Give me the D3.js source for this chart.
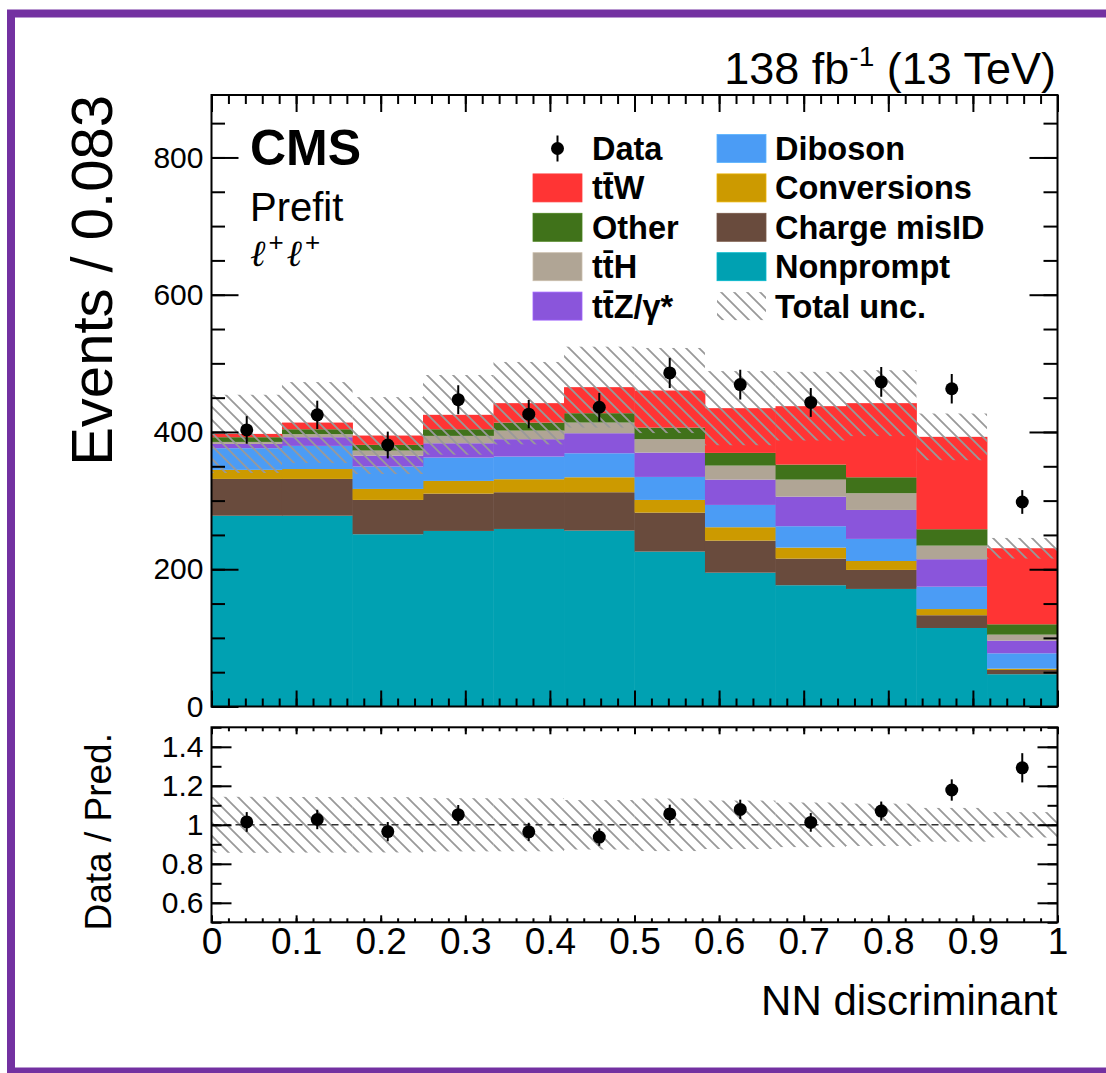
<!DOCTYPE html>
<html><head><meta charset="utf-8">
<script src="https://cdn.jsdelivr.net/npm/d3@7"></script>
<style>body{margin:0;background:#fff}svg{display:block}</style>
</head><body><svg id="c" width="1106" height="1073"></svg>
<script>
// ---------------- data ----------------
const binEdges = [0, 0.0833, 0.1667, 0.25, 0.3333, 0.4167, 0.5, 0.5833, 0.6667, 0.75, 0.8333, 0.9167, 1];
const nonprompt   = [278, 278, 251, 255.8, 258.7, 256.3, 225.7, 195, 176.7, 171.3, 114.4, 47];
const chargeMisID = [53.6, 53.6, 50, 54.4, 53.5, 55.9, 56.8, 46.7, 38.8, 27.7, 18.6, 6.2];
const conversions = [13.2, 14.4, 16, 18.5, 19, 21.8, 18.5, 19.5, 16, 13, 9, 1.9];
const diboson     = [31.6, 33.7, 32.6, 34, 33, 35, 33.5, 32.5, 31.2, 32.2, 32.6, 22.4];
const ttZ         = [6.2, 12.7, 16, 20.9, 25.3, 29.2, 35.5, 36.9, 43.1, 42.2, 40, 18.5];
const ttH         = [2.9, 4.4, 7.3, 10.7, 12.5, 15.5, 19.5, 20.4, 24.8, 24.4, 19.8, 8.7];
const other       = [6.9, 7.2, 8.3, 9.7, 11.7, 13.7, 16.9, 18.5, 21.9, 23.2, 23.9, 15.1];
const ttW         = [4.8, 9.7, 13.6, 21, 28.3, 37.9, 54, 65.2, 85.1, 108, 134.6, 110.8];
const dataCounts  = [403, 425, 381, 447, 426, 436, 486, 469, 443, 473, 463, 298];
const dataErr     = [20.1, 20.6, 19.5, 21.1, 20.6, 20.9, 22, 21.7, 21, 21.7, 21.5, 17.3];
const totalUnc    = [57, 59, 56, 58, 60, 59, 62, 54, 50, 48, 34, 15];

const processNames  = ["Nonprompt", "Charge misID", "Conversions", "Diboson", "ttZ", "ttH", "Other", "ttW"];
const processValues = [nonprompt, chargeMisID, conversions, diboson, ttZ, ttH, other, ttW];
const processColors = ["#00a1b2", "#694b3d", "#cc9a00", "#4b9cf5", "#8a55db", "#b0a595", "#40721a", "#ff3434"];

const xTicks = [0, 0.1, 0.2, 0.3, 0.4, 0.5, 0.6, 0.7, 0.8, 0.9, 1];
const xTickLabels = ["0", "0.1", "0.2", "0.3", "0.4", "0.5", "0.6", "0.7", "0.8", "0.9", "1"];
const yTicksMain = [0, 200, 400, 600, 800];
const yTicksRatio = [0.6, 0.8, 1, 1.2, 1.4];
const yTickLabelsRatio = ["0.6", "0.8", "1", "1.2", "1.4"];

// ---------------- layout ----------------
const svg = d3.select("#c");
const FONT = "'Liberation Sans', Arial, Helvetica, sans-serif";
const L = 211.5, R = 1057.5, T1 = 95, B1 = 706.5, T2 = 727.3, B2 = 922.3;
const x = d3.scaleLinear([0, 1], [L, R]);
const yMain = d3.scaleLinear([0, 891], [B1, T1]);
const yRatio = d3.scaleLinear([0.5, 1.5], [B2, T2]);

// purple frame
svg.append("rect").attr("x", 11).attr("y", 13.5).attr("width", 1200).attr("height", 1058)
  .attr("fill", "none").attr("stroke", "#7331a1").attr("stroke-width", 8);

// hatch pattern
const defs = svg.append("defs");
const pat = defs.append("pattern").attr("id", "hatch").attr("patternUnits", "userSpaceOnUse")
  .attr("width", 13).attr("height", 13);
pat.append("path").attr("d", "M-3,-3 L16,16 M-3,10 L3,16 M10,-3 L16,3")
  .attr("stroke", "#999").attr("stroke-width", 1.8).attr("fill", "none");

// ---------------- main panel ----------------
const bins = d3.range(binEdges.length - 1).map(i => {
  const o = { i, lo: binEdges[i], hi: binEdges[i + 1] };
  processNames.forEach((p, k) => o[p] = processValues[k][i]);
  return o;
});
const stack = d3.stack().keys(processNames)(bins);
const totals = bins.map(b => d3.sum(processNames, p => b[p]));

const gStack = svg.append("g");
stack.forEach((layer, k) => {
  gStack.selectAll(null).data(layer).enter().append("rect")
    .attr("x", d => x(d.data.lo))
    .attr("width", d => x(d.data.hi) - x(d.data.lo) + 0.4)
    .attr("y", d => yMain(d[1]))
    .attr("height", d => yMain(d[0]) - yMain(d[1]))
    .attr("fill", processColors[k]);
});

// uncertainty band
svg.append("g").selectAll("rect").data(bins).enter().append("rect")
  .attr("x", d => x(d.lo)).attr("width", d => x(d.hi) - x(d.lo))
  .attr("y", d => yMain(totals[d.i] + totalUnc[d.i]))
  .attr("height", d => yMain(totals[d.i] - totalUnc[d.i]) - yMain(totals[d.i] + totalUnc[d.i]))
  .attr("fill", "url(#hatch)");

// data points
const gData = svg.append("g");
bins.forEach(b => {
  const cx = x((b.lo + b.hi) / 2);
  gData.append("line").attr("x1", cx).attr("x2", cx)
    .attr("y1", yMain(dataCounts[b.i] - dataErr[b.i])).attr("y2", yMain(dataCounts[b.i] + dataErr[b.i]))
    .attr("stroke", "#000").attr("stroke-width", 2);
  gData.append("circle").attr("cx", cx).attr("cy", yMain(dataCounts[b.i])).attr("r", 6.5).attr("fill", "#000");
});

// axes helpers
function styleAxis(g) {
  g.select(".domain").remove();
  g.selectAll(".tick line").attr("stroke", "#000").attr("stroke-width", 2);
  g.selectAll("text").attr("font-family", FONT).attr("fill", "#000");
}
function axisSet(scale, majors, minors, labels, orient, y0, len, fontSize, pad) {
  const mk = orient === "left" ? d3.axisLeft : orient === "right" ? d3.axisRight : orient === "top" ? d3.axisTop : d3.axisBottom;
  const pos = orient === "left" || orient === "right" ? `translate(${y0},0)` : `translate(0,${y0})`;
  const gMin = svg.append("g").attr("transform", pos)
    .call(mk(scale).tickValues(minors).tickSize(-len[1]).tickFormat(""));
  styleAxis(gMin);
  const gMaj = svg.append("g").attr("transform", pos)
    .call(mk(scale).tickValues(majors).tickSize(-len[0]).tickPadding(pad || 0)
      .tickFormat(labels ? ((d, i) => labels[i]) : ""));
  styleAxis(gMaj);
  gMaj.selectAll("text").attr("font-size", fontSize || 10);
  return gMaj;
}

const xMinor = d3.range(0, 51).map(i => i * 0.02);
const yMinorMain = d3.range(0, 18).map(i => i * 50);
const yMinorRatio = d3.range(0, 11).map(i => 0.5 + i * 0.1);

axisSet(yMain, yTicksMain, yMinorMain, yTicksMain.map(String), "left", L, [27, 13.5], 30, 8);
axisSet(yMain, yTicksMain, yMinorMain, null, "right", R, [28, 14]);
axisSet(x, xTicks, xMinor, null, "bottom", B1, [16, 8]);
axisSet(x, xTicks, xMinor, null, "top", T1, [17, 9]);

svg.append("rect").attr("x", L).attr("y", T1).attr("width", R - L).attr("height", B1 - T1)
  .attr("fill", "none").attr("stroke", "#000").attr("stroke-width", 2);

// ---------------- ratio panel ----------------
svg.append("g").selectAll("rect").data(bins).enter().append("rect")
  .attr("x", d => x(d.lo)).attr("width", d => x(d.hi) - x(d.lo))
  .attr("y", d => yRatio(1 + totalUnc[d.i] / totals[d.i]))
  .attr("height", d => yRatio(1 - totalUnc[d.i] / totals[d.i]) - yRatio(1 + totalUnc[d.i] / totals[d.i]))
  .attr("fill", "url(#hatch)");

svg.append("line").attr("x1", L).attr("x2", R).attr("y1", yRatio(1)).attr("y2", yRatio(1))
  .attr("stroke", "#333").attr("stroke-width", 1.5).attr("stroke-dasharray", "7,5");

const gR = svg.append("g");
bins.forEach(b => {
  const cx = x((b.lo + b.hi) / 2);
  const r = dataCounts[b.i] / totals[b.i];
  const e = dataErr[b.i] / totals[b.i];
  gR.append("line").attr("x1", cx).attr("x2", cx)
    .attr("y1", yRatio(r - e)).attr("y2", yRatio(r + e))
    .attr("stroke", "#000").attr("stroke-width", 2);
  gR.append("circle").attr("cx", cx).attr("cy", yRatio(r)).attr("r", 6.5).attr("fill", "#000");
});

axisSet(yRatio, yTicksRatio, yMinorRatio, yTickLabelsRatio, "left", L, [20, 10], 30, 8);
axisSet(yRatio, yTicksRatio, yMinorRatio, null, "right", R, [20, 10]);
const gxb = axisSet(x, xTicks, xMinor, xTickLabels, "bottom", B2, [7, 4], 37, 0);
gxb.selectAll("text").attr("dy", null).attr("y", 0).attr("transform", "translate(0,32)");
axisSet(x, xTicks, xMinor, null, "top", T2, [7, 4]);

svg.append("rect").attr("x", L).attr("y", T2).attr("width", R - L).attr("height", B2 - T2)
  .attr("fill", "none").attr("stroke", "#000").attr("stroke-width", 2);

// ---------------- texts ----------------
svg.append("text").attr("x", R).attr("y", 1015).attr("text-anchor", "end")
  .attr("font-family", FONT).attr("font-size", 42).text("NN discriminant");

svg.append("text").attr("transform", `translate(112,${T1}) rotate(-90)`).attr("text-anchor", "end")
  .attr("font-family", FONT).attr("font-size", 58).text("Events / 0.083");

svg.append("text").attr("transform", `translate(111,${(T2 + B2) / 2 + 7}) rotate(-90)`).attr("text-anchor", "middle")
  .attr("font-family", FONT).attr("font-size", 37).text("Data / Pred.");

const lumi = svg.append("text").attr("x", 1056).attr("y", 84).attr("text-anchor", "end")
  .attr("font-family", FONT).attr("font-size", 45);
lumi.append("tspan").text("138 fb");
lumi.append("tspan").attr("font-size", 28).attr("dy", -18).text("-1");
lumi.append("tspan").attr("dy", 18).text(" (13 TeV)");

svg.append("text").attr("x", 250).attr("y", 165).attr("font-family", FONT).attr("font-weight", "bold")
  .attr("font-size", 50).text("CMS");
svg.append("text").attr("x", 250).attr("y", 221).attr("font-family", FONT)
  .attr("font-size", 40).text("Prefit");
const ll = svg.append("text").attr("x", 250).attr("y", 266).attr("font-family", "'DejaVu Serif', serif")
  .attr("font-style", "italic").attr("font-size", 37);
ll.append("tspan").text("ℓ");
ll.append("tspan").attr("font-size", 26).attr("dx", 3).attr("dy", -15).attr("font-style", "normal").attr("font-family", FONT).text("+");
ll.append("tspan").attr("dx", 3).attr("dy", 15).text("ℓ");
ll.append("tspan").attr("font-size", 26).attr("dx", 3).attr("dy", -15).attr("font-style", "normal").attr("font-family", FONT).text("+");

// ---------------- legend ----------------
const legendLeft = [
  { label: "Data", type: "data" },
  { label: "tt\u0304W", color: processColors[7] },
  { label: "Other", color: processColors[6] },
  { label: "tt\u0304H", color: processColors[5] },
  { label: "tt\u0304Z/γ*", color: processColors[4] }
];
const legendRight = [
  { label: "Diboson", color: processColors[3] },
  { label: "Conversions", color: processColors[2] },
  { label: "Charge misID", color: processColors[1] },
  { label: "Nonprompt", color: processColors[0] },
  { label: "Total unc.", type: "hatch" }
];
function drawLegend(items, sx, tx) {
  items.forEach((it, i) => {
    const cy = 148.5 + i * 39.4;
    if (it.type === "data") {
      svg.append("line").attr("x1", sx + 24.5).attr("x2", sx + 24.5).attr("y1", cy - 13).attr("y2", cy + 13)
        .attr("stroke", "#000").attr("stroke-width", 2);
      svg.append("circle").attr("cx", sx + 24.5).attr("cy", cy).attr("r", 6.5).attr("fill", "#000");
    } else if (it.type === "hatch") {
      svg.append("rect").attr("x", sx).attr("y", cy - 14).attr("width", 49).attr("height", 28).attr("fill", "url(#hatch)");
    } else {
      svg.append("rect").attr("x", sx).attr("y", cy - 14).attr("width", 49).attr("height", 28)
        .attr("fill", it.color).attr("stroke", d3.color(it.color).brighter(0.4)).attr("stroke-width", 0.8);
    }
    svg.append("text").attr("x", tx).attr("y", cy + 11.5).attr("font-family", FONT).attr("font-weight", "bold")
      .attr("font-size", 32.5).text(it.label);
  });
}
drawLegend(legendLeft, 533, 592);
drawLegend(legendRight, 717, 775);
</script></body></html>
